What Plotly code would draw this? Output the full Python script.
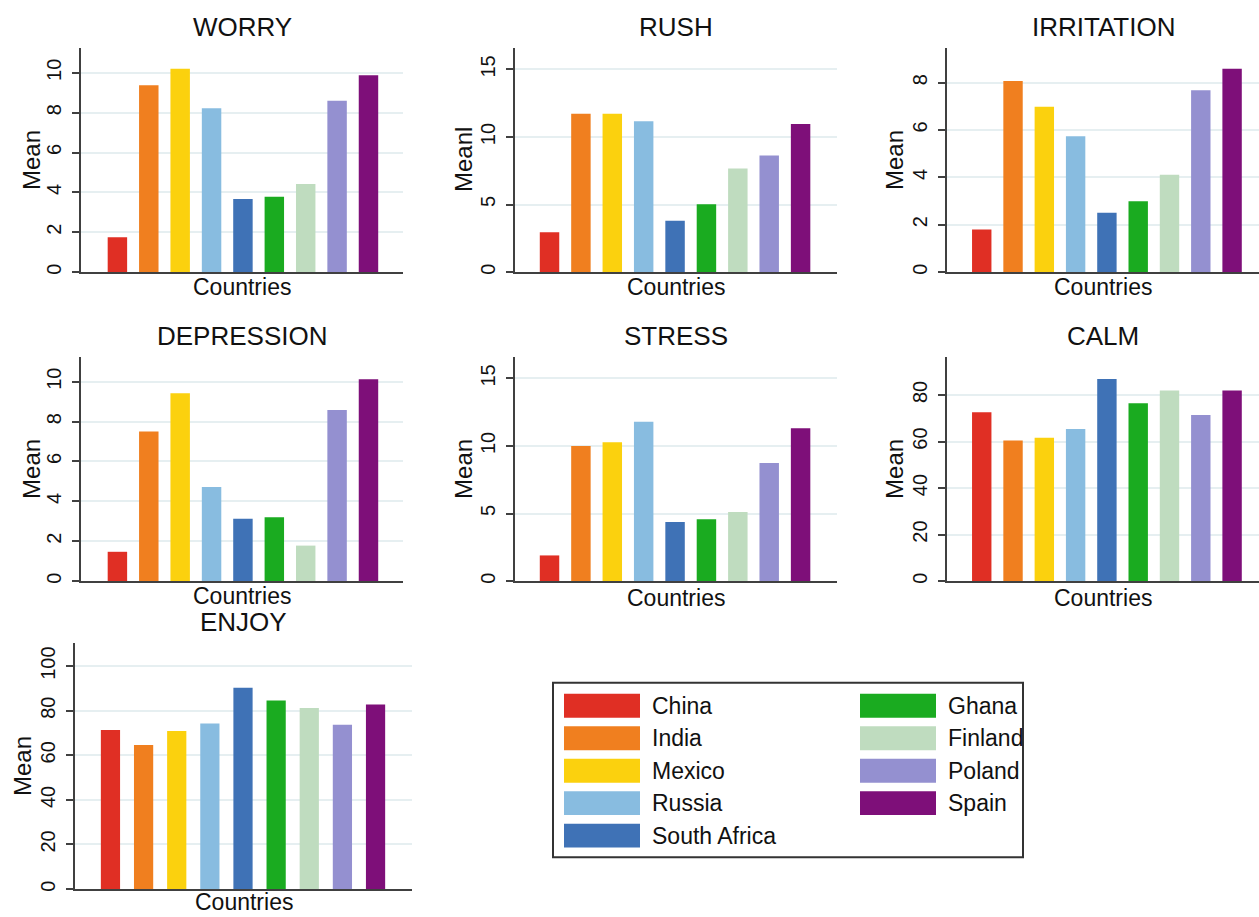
import plotly.graph_objects as go

W, H = 1259, 917

countries = ["China", "India", "Mexico", "Russia", "South Africa",
             "Ghana", "Finland", "Poland", "Spain"]
colors = ["#e02f24", "#f07f1f", "#fbd10e", "#88bce0", "#3f72b6",
          "#1aab20", "#bfdcbf", "#9490d0", "#7e0f79"]

worry = [1.75, 9.37, 10.2, 8.22, 3.67, 3.78, 4.42, 8.6, 9.87]
rush = [2.95, 11.73, 11.73, 11.16, 3.81, 5.02, 7.67, 8.63, 10.97]
irritation = [1.8, 8.07, 6.98, 5.74, 2.51, 2.99, 4.11, 7.68, 8.59]
depression = [1.47, 7.5, 9.42, 4.72, 3.13, 3.2, 1.78, 8.58, 10.12]
stress = [1.9, 10.0, 10.28, 11.79, 4.37, 4.57, 5.11, 8.75, 11.32]
calm = [72.6, 60.4, 61.6, 65.4, 86.9, 76.4, 81.9, 71.4, 81.9]
enjoy = [71.3, 64.6, 70.9, 74.3, 90.3, 84.6, 81.2, 73.7, 82.8]

titles = ["WORRY", "RUSH", "IRRITATION", "DEPRESSION", "STRESS", "CALM", "ENJOY"]
ytitles = ["Mean", "Meanl", "Mean", "Mean", "Mean", "Mean", "Mean"]
series = [worry, rush, irritation, depression, stress, calm, enjoy]
yticks = [[0, 2, 4, 6, 8, 10], [0, 5, 10, 15], [0, 2, 4, 6, 8],
          [0, 2, 4, 6, 8, 10], [0, 5, 10, 15], [0, 20, 40, 60, 80],
          [0, 20, 40, 60, 80, 100]]
ymax = [11.25, 16.6, 9.47, 11.25, 16.6, 96.4, 110.4]

# panel layout in pixels: (x0, x1, y_top, y_bottom), x range
panels = [
    (81, 403, 48, 273, (-1.16, 9.1)),
    (515, 837, 48, 273, (-1.10, 9.16)),
    (947, 1259, 48, 273, (-1.11, 8.86)),
    (81, 403, 358, 583, (-1.16, 9.1)),
    (515, 837, 358, 583, (-1.10, 9.16)),
    (947, 1259, 358, 583, (-1.11, 8.86)),
    (75, 412, 645, 892, (-1.07, 9.1)),
]
ytitle_x = [32, 464, 895, 32, 464, 895, 23]
xtitle_dy = [15, 15, 15, 15, 17, 17, 13]
bar_w = [0.62, 0.62, 0.62, 0.62, 0.62, 0.62, 0.58]

FONT = "Liberation Sans, Arial, sans-serif"
AX = "#404040"
GRID = "#e6eff1"
TXT = "#111111"

def fx(p):
    return p / W

def fy(p):
    return 1 - p / H

fig = go.Figure()
annotations = []
shapes = []

for i, (vals, title) in enumerate(zip(series, titles)):
    k = "" if i == 0 else str(i + 1)
    x0, x1, yt, yb, xr = panels[i]
    fig.add_trace(go.Bar(
        x=countries, y=vals, xaxis="x" + k, yaxis="y" + k,
        marker=dict(color=colors, line=dict(width=0)),
        width=bar_w[i], showlegend=False,
        hovertemplate="%{x}: %{y}<extra>" + title + "</extra>"))
    fig.layout["xaxis" + k] = dict(
        domain=[fx(x0), fx(x1)], anchor="y" + k, range=list(xr),
        showticklabels=False, ticks="", showgrid=False, zeroline=False,
        showline=True, linecolor=AX, linewidth=2, fixedrange=True)
    fig.layout["yaxis" + k] = dict(
        domain=[fy(yb), fy(yt)], anchor="x" + k, range=[0, ymax[i]],
        tickvals=yticks[i], tickangle=-90, ticks="outside", ticklen=7,
        tickwidth=2, tickcolor=AX, showline=True, linecolor=AX, linewidth=2,
        showgrid=True, gridcolor=GRID, gridwidth=1.5, zeroline=False,
        tickfont=dict(size=20, color=TXT, family=FONT),
        ticklabelstandoff=3, fixedrange=True)
    annotations.append(dict(
        text=title, x=fx((x0 + x1) / 2), y=fy(yt - 21), xref="paper",
        yref="paper", showarrow=False, xanchor="center", yanchor="middle",
        font=dict(size=26, color=TXT, family=FONT)))
    annotations.append(dict(
        text="Countries", x=fx((x0 + x1) / 2), y=fy(yb + xtitle_dy[i]),
        xref="paper", yref="paper", showarrow=False, xanchor="center",
        yanchor="middle", font=dict(size=23, color=TXT, family=FONT)))
    annotations.append(dict(
        text=ytitles[i], x=fx(ytitle_x[i]), y=fy((yt + yb) / 2),
        xref="paper", yref="paper", showarrow=False, textangle=-90,
        xanchor="center", yanchor="middle",
        font=dict(size=24, color=TXT, family=FONT)))

# legend box
shapes.append(dict(type="rect", xref="paper", yref="paper",
                   x0=fx(553), x1=fx(1023), y0=fy(860), y1=fy(685),
                   line=dict(color="#333333", width=2), fillcolor="white"))
col_x = [564, 860]
row_y0 = 708
row_dy = 32.6
for j, (name, c) in enumerate(zip(countries, colors)):
    col = 0 if j < 5 else 1
    row = j if j < 5 else j - 5
    cy = row_y0 + row * row_dy
    sx = col_x[col]
    shapes.append(dict(type="rect", xref="paper", yref="paper",
                       x0=fx(sx), x1=fx(sx + 76), y0=fy(cy + 12), y1=fy(cy - 12),
                       line=dict(width=0), fillcolor=c))
    annotations.append(dict(
        text=name, x=fx(sx + 86), y=fy(cy), xref="paper", yref="paper",
        showarrow=False, xanchor="left", yanchor="middle",
        font=dict(size=23, color=TXT, family=FONT)))

fig.update_layout(
    width=W, height=H, margin=dict(l=0, r=0, t=0, b=0),
    paper_bgcolor="white", plot_bgcolor="white",
    annotations=annotations, shapes=shapes, bargap=0.3,
    font=dict(family=FONT))

fig.write_html("out.html", config={"displayModeBar": False},
               post_script="document.body.style.margin='0';"
                           "document.body.style.overflow='hidden';")
